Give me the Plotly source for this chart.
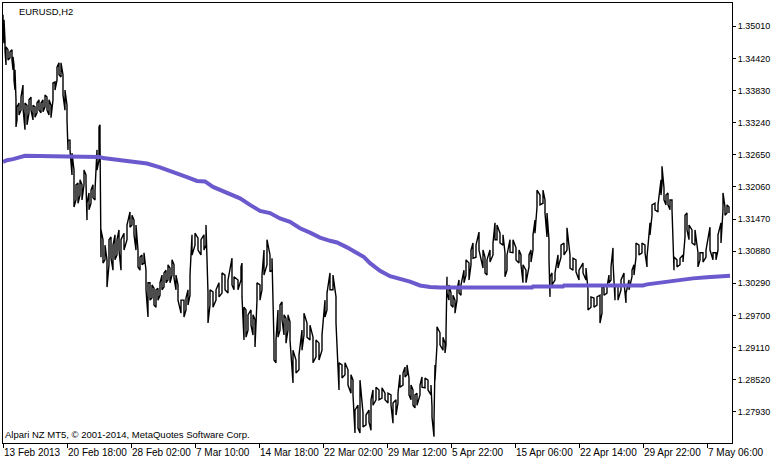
import plotly.graph_objects as go

# ---- price series (EURUSD H2), sampled bar index with high / low ----
bars = [
    0, 1, 2, 3, 5, 7, 9, 10, 11, 12,
    13, 14, 16, 18, 20, 22, 24, 26, 28, 30,
    32, 34, 36, 38, 40, 42, 44, 46, 48, 50,
    52, 54, 56, 58, 60, 62, 64, 65, 67, 69,
    71, 73, 75, 77, 79, 81, 83, 84, 86, 88,
    90, 92, 94, 96, 97, 98, 100, 102, 104, 106,
    108, 110, 112, 114, 116, 118, 121, 124, 127, 129,
    131, 133, 135, 137, 139, 141, 143, 145, 147, 149,
    151, 153, 155, 157, 159, 161, 163, 165, 167, 169,
    171, 173, 175, 178, 181, 183, 185, 187, 189, 192,
    195, 198, 201, 203, 205, 207, 210, 213, 216, 219,
    222, 225, 229, 231, 235, 238, 239, 241, 243, 245,
    248, 250, 252, 254, 257, 259, 261, 264, 267, 269,
    271, 273, 275, 277, 279, 281, 283, 285, 287, 290,
    293, 296, 299, 301, 304, 307, 310, 313, 316, 319,
    322, 324, 327, 330, 333, 336, 339, 342, 345, 348,
    350, 352, 355, 357, 360, 363, 366, 368, 370, 373,
    376, 379, 382, 385, 388, 390, 393, 395, 397, 400,
    402, 404, 406, 408, 410, 412, 414, 417, 419, 422,
    425, 428, 429, 431, 432, 434, 437, 440, 442, 443,
    444, 446, 448, 450, 452, 454, 456, 458, 461, 463,
    466, 468, 470, 473, 476, 480, 482, 484, 487, 490,
    492, 494, 497, 500, 502, 504, 507, 510, 513, 516,
    518, 520, 523, 526, 528, 530, 532, 534, 537, 540,
    542, 544, 546, 547, 549, 552, 555, 558, 561, 564,
    567, 570, 573, 576, 580, 583, 585, 588, 591, 594,
    597, 599, 601, 604, 606, 608, 610, 612, 615, 618,
    621, 623, 626, 629, 631, 633, 636, 639, 642, 644,
    647, 649, 652, 655, 658, 659, 661, 663, 665, 667,
    669, 671, 674, 677, 680, 682, 684, 686, 689, 692,
    695, 697, 700, 703, 707, 710, 713, 715, 718, 720,
    722, 724, 726,
]

high = [
    1.3522, 1.3513, 1.3476, 1.3463, 1.3458, 1.3454, 1.3458, 1.3445, 1.3430, 1.3421,
    1.3366, 1.3353, 1.3360, 1.3371, 1.3393, 1.3360, 1.3356, 1.3366, 1.3371, 1.3356,
    1.3353, 1.3360, 1.3366, 1.3360, 1.3366, 1.3375, 1.3371, 1.3366, 1.3356, 1.3397,
    1.3399, 1.3426, 1.3434, 1.3434, 1.3412, 1.3384, 1.3356, 1.3292, 1.3292, 1.3268,
    1.3237, 1.3210, 1.3213, 1.3219, 1.3210, 1.3237, 1.3228, 1.3176, 1.3195, 1.3200,
    1.3210, 1.3200, 1.3274, 1.3316, 1.3320, 1.3127, 1.3109, 1.3099, 1.3072, 1.3109,
    1.3114, 1.3099, 1.3118, 1.3109, 1.3127, 1.3109, 1.3121, 1.3136, 1.3160, 1.3154,
    1.3145, 1.3136, 1.3090, 1.3077, 1.3081, 1.3085, 1.3053, 1.3030, 1.3030, 1.3026,
    1.3020, 1.3017, 1.3020, 1.3030, 1.3044, 1.3048, 1.3053, 1.3063, 1.3057, 1.3072,
    1.3063, 1.3044, 1.3026, 1.2998, 1.2998, 1.3002, 1.3017, 1.3044, 1.3118, 1.3121,
    1.3112, 1.3109, 1.3118, 1.3136, 1.3011, 1.3017, 1.3013, 1.3017, 1.3030, 1.3048,
    1.3044, 1.3035, 1.3075, 1.3041, 1.3035, 1.3059, 1.3066, 1.2985, 1.2980, 1.2971,
    1.2980, 1.2971, 1.2962, 1.3030, 1.3026, 1.3044, 1.3090, 1.3109, 1.3081, 1.3075,
    1.2919, 1.2925, 1.2980, 1.2989, 1.2995, 1.2971, 1.2965, 1.2971, 1.2958, 1.2906,
    1.2888, 1.2897, 1.2943, 1.2974, 1.2956, 1.2952, 1.2930, 1.2925, 1.2919, 1.2934,
    1.2998, 1.3011, 1.3048, 1.3044, 1.3004, 1.2883, 1.2879, 1.2883, 1.2870, 1.2861,
    1.2851, 1.2796, 1.2805, 1.2851, 1.2791, 1.2787, 1.2796, 1.2815, 1.2833, 1.2838,
    1.2833, 1.2837, 1.2827, 1.2827, 1.2824, 1.2809, 1.2815, 1.2827, 1.2861, 1.2864,
    1.2875, 1.2879, 1.2855, 1.2842, 1.2833, 1.2824, 1.2827, 1.2842, 1.2857, 1.2855,
    1.2851, 1.2842, 1.2802, 1.2778, 1.2879, 1.2949, 1.2938, 1.2930, 1.2919, 1.2938,
    1.3041, 1.3026, 1.3011, 1.3007, 1.2998, 1.3017, 1.3035, 1.3026, 1.3053, 1.3072,
    1.3066, 1.3090, 1.3103, 1.3099, 1.3123, 1.3090, 1.3077, 1.3072, 1.3090, 1.3103,
    1.3140, 1.3136, 1.3121, 1.3118, 1.3085, 1.3081, 1.3109, 1.3109, 1.3094, 1.3090,
    1.3081, 1.3063, 1.3053, 1.3081, 1.3090, 1.3118, 1.3145, 1.3200, 1.3191, 1.3200,
    1.3182, 1.3158, 1.3109, 1.3041, 1.3048, 1.3048, 1.3081, 1.3099, 1.3103, 1.3131,
    1.3081, 1.3075, 1.3072, 1.3053, 1.3066, 1.3057, 1.3017, 1.3004, 1.3002, 1.3004,
    1.3007, 1.3022, 1.3022, 1.3022, 1.3044, 1.3059, 1.3094, 1.3022, 1.3026, 1.3035,
    1.3048, 1.3011, 1.3035, 1.3053, 1.3063, 1.3103, 1.3099, 1.3103, 1.3099, 1.3077,
    1.3140, 1.3173, 1.3176, 1.3173, 1.3219, 1.3244, 1.3204, 1.3191, 1.3195, 1.3182,
    1.3182, 1.3077, 1.3072, 1.3075, 1.3081, 1.3154, 1.3158, 1.3136, 1.3127, 1.3127,
    1.3085, 1.3085, 1.3085, 1.3090, 1.3132, 1.3085, 1.3085, 1.3118, 1.3140, 1.3195,
    1.3169, 1.3173, 1.3169,
]

low = [
    1.3494, 1.3470, 1.3458, 1.3430, 1.3439, 1.3443, 1.3439, 1.3421, 1.3402, 1.3384,
    1.3316, 1.3329, 1.3338, 1.3347, 1.3351, 1.3311, 1.3320, 1.3342, 1.3347, 1.3329,
    1.3334, 1.3342, 1.3347, 1.3342, 1.3344, 1.3353, 1.3347, 1.3338, 1.3333, 1.3366,
    1.3384, 1.3402, 1.3412, 1.3408, 1.3375, 1.3347, 1.3329, 1.3274, 1.3274, 1.3228,
    1.3169, 1.3182, 1.3176, 1.3191, 1.3182, 1.3210, 1.3213, 1.3145, 1.3164, 1.3176,
    1.3186, 1.3182, 1.3237, 1.3255, 1.3292, 1.3077, 1.3066, 1.3072, 1.3022, 1.3063,
    1.3075, 1.3053, 1.3072, 1.3081, 1.3090, 1.3053, 1.3090, 1.3109, 1.3132, 1.3136,
    1.3118, 1.3090, 1.3059, 1.3053, 1.3063, 1.3066, 1.3017, 1.2967, 1.2998, 1.3002,
    1.2989, 1.2985, 1.2998, 1.3007, 1.3017, 1.3022, 1.3030, 1.3035, 1.3030, 1.3044,
    1.3039, 1.3017, 1.2998, 1.2974, 1.2967, 1.2980, 1.2989, 1.3007, 1.3081, 1.3099,
    1.3090, 1.3081, 1.3090, 1.3099, 1.2956, 1.2989, 1.2985, 1.2998, 1.3004, 1.3011,
    1.3017, 1.3011, 1.3026, 1.3017, 1.3017, 1.3035, 1.3004, 1.2925, 1.2930, 1.2943,
    1.2952, 1.2934, 1.2912, 1.2998, 1.2998, 1.3017, 1.3044, 1.3063, 1.3050, 1.3053,
    1.2888, 1.2883, 1.2930, 1.2943, 1.2962, 1.2934, 1.2919, 1.2943, 1.2925, 1.2846,
    1.2864, 1.2870, 1.2906, 1.2934, 1.2930, 1.2925, 1.2883, 1.2894, 1.2888, 1.2906,
    1.2967, 1.2980, 1.3017, 1.3017, 1.2956, 1.2833, 1.2855, 1.2861, 1.2842, 1.2827,
    1.2824, 1.2754, 1.2763, 1.2754, 1.2765, 1.2769, 1.2774, 1.2759, 1.2805, 1.2815,
    1.2815, 1.2818, 1.2815, 1.2809, 1.2805, 1.2772, 1.2787, 1.2809, 1.2838, 1.2842,
    1.2857, 1.2861, 1.2824, 1.2815, 1.2805, 1.2800, 1.2805, 1.2824, 1.2838, 1.2837,
    1.2833, 1.2824, 1.2783, 1.2747, 1.2851, 1.2916, 1.2916, 1.2906, 1.2901, 1.2916,
    1.3011, 1.2998, 1.2989, 1.2985, 1.2974, 1.2998, 1.3011, 1.3007, 1.3030, 1.3044,
    1.3035, 1.3063, 1.3075, 1.3077, 1.3090, 1.3057, 1.3048, 1.3044, 1.3068, 1.3081,
    1.3109, 1.3109, 1.3103, 1.3099, 1.3041, 1.3053, 1.3086, 1.3085, 1.3072, 1.3066,
    1.3063, 1.3030, 1.3030, 1.3059, 1.3068, 1.3090, 1.3121, 1.3169, 1.3173, 1.3176,
    1.3158, 1.3114, 1.3072, 1.3004, 1.3026, 1.3035, 1.3057, 1.3077, 1.3081, 1.3090,
    1.3057, 1.3053, 1.3050, 1.3035, 1.3048, 1.3035, 1.2980, 1.2985, 1.2985, 1.2989,
    1.2956, 1.2974, 1.3007, 1.3011, 1.3030, 1.3035, 1.3068, 1.2998, 1.2998, 1.3017,
    1.3030, 1.2993, 1.3017, 1.3041, 1.3044, 1.3077, 1.3081, 1.3085, 1.3085, 1.3059,
    1.3118, 1.3154, 1.3164, 1.3160, 1.3191, 1.3210, 1.3182, 1.3173, 1.3173, 1.3164,
    1.3164, 1.3053, 1.3059, 1.3063, 1.3068, 1.3114, 1.3127, 1.3109, 1.3103, 1.3099,
    1.3059, 1.3072, 1.3068, 1.3077, 1.3090, 1.3072, 1.3072, 1.3090, 1.3103, 1.3164,
    1.3154, 1.3158, 1.3158,
]

# ---- moving average ----
ma_bars = [0, 4, 10, 17, 22, 64, 97, 100, 110, 117, 130, 144, 157, 170, 184, 194,
           202, 210, 224, 237, 247, 257, 267, 277, 287, 297, 307, 317, 327, 334,
           344, 354, 361, 367, 377, 387, 397, 407, 417, 427, 437, 529, 530, 560,
           561, 640, 644, 657, 664, 677, 690, 704, 717, 727]
ma_vals = [1.3252, 1.3255, 1.3257, 1.3261, 1.3263, 1.3262, 1.3261, 1.3259, 1.3257,
           1.3255, 1.3253, 1.3249, 1.3242, 1.3234, 1.3224, 1.3217, 1.3216, 1.3206,
           1.3196, 1.3185, 1.3173, 1.3162, 1.3158, 1.3148, 1.3142, 1.3130, 1.3122,
           1.3113, 1.3107, 1.3104, 1.3095, 1.3085, 1.3077, 1.3066, 1.3052, 1.3042,
           1.3037, 1.3032, 1.3025, 1.3022, 1.3021, 1.3021, 1.3023, 1.3023, 1.3025,
           1.3025, 1.3027, 1.3030, 1.3033, 1.3035, 1.3038, 1.3040, 1.3041, 1.3043]

# ---- axes ----
x_tick_bars = [0, 64, 128, 192, 256, 320, 384, 448, 512, 576, 640, 704]
x_tick_text = ["13 Feb 2013", "20 Feb 18:00", "28 Feb 02:00", "7 Mar 10:00",
               "14 Mar 18:00", "22 Mar 02:00", "29 Mar 12:00", "5 Apr 22:00",
               "15 Apr 06:00", "22 Apr 14:00", "29 Apr 22:00", "7 May 06:00"]
y_tick_vals = [1.27930, 1.28520, 1.29110, 1.29700, 1.30290, 1.30880, 1.31470,
               1.32060, 1.32650, 1.33240, 1.33830, 1.34420, 1.35010]
y_tick_text = [f"{v:.5f}" for v in y_tick_vals]

# build vertical high-low strokes joined into one line
lx, ly = [], []
for i, (b, h, l) in enumerate(zip(bars, high, low)):
    lx += [b, b]
    ly += ([h, l] if i % 2 == 0 else [l, h])

fig = go.Figure()
fig.add_trace(go.Scatter(x=lx, y=ly, mode="lines",
                         line=dict(color="black", width=1.4),
                         hoverinfo="skip", showlegend=False))
fig.add_trace(go.Scatter(x=ma_bars, y=ma_vals, mode="lines",
                         line=dict(color="#6a5acd", width=4),
                         showlegend=False))

font = "Liberation Sans, Arial, sans-serif"
fig.update_layout(
    width=783, height=463, autosize=False,
    margin=dict(l=3, r=51, t=3, b=20),
    paper_bgcolor="white", plot_bgcolor="white",
    font=dict(family=font, color="black", size=10),
    xaxis=dict(range=[0, 729], tickvals=x_tick_bars, ticktext=x_tick_text,
               ticks="outside", ticklen=4, tickcolor="black", tickangle=0,
               ticklabelposition="outside right", automargin=False,
               tickfont=dict(size=10, family=font, color="black"),
               showline=True, linecolor="black", linewidth=1, mirror=True,
               showgrid=False, zeroline=False, fixedrange=True),
    yaxis=dict(range=[1.27356, 1.35438], side="right", automargin=False,
               tickvals=y_tick_vals, ticktext=y_tick_text,
               ticks="outside", ticklen=3, tickcolor="black",
               tickfont=dict(size=9, family=font, color="black"),
               showline=True, linecolor="black", linewidth=1, mirror=True,
               showgrid=False, zeroline=False, fixedrange=True),
    annotations=[
        dict(text="EURUSD,H2", xref="paper", yref="paper", x=0.019, y=0.997,
             xanchor="left", yanchor="top", showarrow=False,
             font=dict(size=9.4, family=font, color="black")),
        dict(text="Alpari NZ MT5, © 2001-2014, MetaQuotes Software Corp.",
             xref="paper", yref="paper", x=0.0, y=0.02,
             xanchor="left", yanchor="middle", showarrow=False,
             font=dict(size=9.5, family=font, color="black")),
    ],
)

fig.write_html("out.html", config={"displayModeBar": False},
               post_script="document.body.style.margin='0px';")
